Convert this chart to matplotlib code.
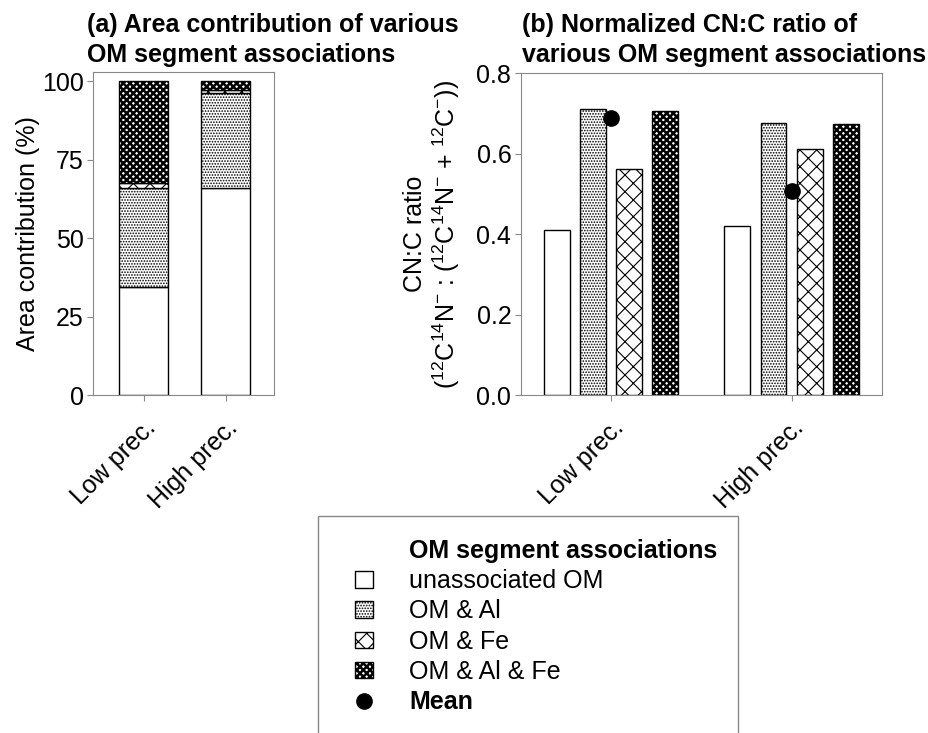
import numpy as np
import matplotlib.pyplot as plt
from matplotlib.patches import Patch, Rectangle
from matplotlib.lines import Line2D

plt.rcParams['font.family'] = ['Liberation Sans', 'DejaVu Sans']
plt.rcParams['font.size'] = 18
plt.rcParams['mathtext.fontset'] = 'custom'
plt.rcParams['mathtext.rm'] = 'Liberation Sans'
plt.rcParams['mathtext.it'] = 'Liberation Sans:italic'
plt.rcParams['mathtext.bf'] = 'Liberation Sans:bold'
plt.rcParams['hatch.linewidth'] = 0.8

sites = ['Low prec.', 'High prec.']
groups = ['unassociated OM', 'OM & Al', 'OM & Fe', 'OM & Al & Fe']
hatches = ['', '......', 'xx', 'xxxxx']
hatch_lw = [0.8, 0.8, 0.8, 1.8]

# area contribution (%) per site
area_unassoc = [34.5, 66.0]
area_al = [31.5, 30.4]
area_fe = [1.6, 0.8]
area_alfe = [32.4, 2.8]

# normalized CN:C ratio per site
ratio_unassoc = [0.410, 0.420]
ratio_al = [0.711, 0.677]
ratio_fe = [0.561, 0.611]
ratio_alfe = [0.707, 0.673]
ratio_mean = [0.688, 0.507]

frame_col = '#888888'

fig = plt.figure(figsize=(9.29, 7.33), dpi=100)
ax1 = fig.add_axes([0.1004, 0.4611, 0.1945, 0.4407])
ax2 = fig.add_axes([0.5608, 0.4611, 0.3883, 0.4389])

x = np.arange(len(sites))

# (a) stacked bars
bottom = np.zeros(len(sites))
for vals, h, hl in zip([area_unassoc, area_al, area_fe, area_alfe], hatches, hatch_lw):
    with plt.rc_context({'hatch.linewidth': hl}):
        ax1.bar(x, vals, 0.6, bottom=bottom, color='white', edgecolor='black',
                linewidth=1, hatch=h)
    bottom += np.array(vals)
ax1.set_xlim(-0.62, 1.59)
ax1.set_ylim(0, 103)
ax1.set_yticks([0, 25, 50, 75, 100])
ax1.set_ylabel('Area contribution (%)', labelpad=1)

# (b) grouped bars + mean
w = 0.144
offsets = [-0.3, -0.1, 0.1, 0.3]
for vals, h, hl, off in zip([ratio_unassoc, ratio_al, ratio_fe, ratio_alfe],
                            hatches, hatch_lw, offsets):
    with plt.rc_context({'hatch.linewidth': hl}):
        ax2.bar(x + off, vals, w, color='white', edgecolor='black',
                linewidth=1, hatch=h)
ax2.plot(x, ratio_mean, 'o', color='black', markersize=11, zorder=5)
ax2.set_xlim(-0.5, 1.5)
ax2.set_ylim(0, 0.8)
ax2.set_yticks([0, 0.2, 0.4, 0.6, 0.8])
ax2.set_yticklabels(['0.0', '0.2', '0.4', '0.6', '0.8'])
ax2.set_ylabel('CN:C ratio\n'
               r'($^{12}$C$^{14}$N$^{-}$ : ($^{12}$C$^{14}$N$^{-}$ + $^{12}$C$^{-}$))',
               labelpad=10, linespacing=1.15)

for ax in (ax1, ax2):
    for s in ax.spines.values():
        s.set_color(frame_col)
    ax.tick_params(direction='out', length=4, color=frame_col, labelsize=18, pad=3)
    ax.tick_params(axis='x', pad=11)
    ax.set_xticks(x)
    ax.set_xticklabels(sites, rotation=45, ha='right', rotation_mode='anchor')

fig.text(0.0936, 1 - 13 / 733, '(a) Area contribution of various\nOM segment associations',
         fontsize=18, fontweight='bold', va='top', ha='left', linespacing=1.3)
fig.text(0.562, 1 - 13 / 733, '(b) Normalized CN:C ratio of\nvarious OM segment associations',
         fontsize=18, fontweight='bold', va='top', ha='left', linespacing=1.3)

# legend
handles = [Patch(facecolor='none', edgecolor='none')]
labels = ['OM segment associations']
for g, h in zip(groups, hatches):
    handles.append(Patch(facecolor='white', edgecolor='black', hatch=h, linewidth=1))
    labels.append(g)
handles.append(Line2D([], [], marker='o', color='black', linestyle='none', markersize=11))
labels.append('Mean')
leg = fig.legend(handles, labels, loc='upper left',
                 bbox_to_anchor=(355 / 929, 1 - 539 / 733),
                 frameon=False, borderpad=0, borderaxespad=0,
                 handlelength=0.72, handleheight=0.64, handletextpad=1.44,
                 labelspacing=0.25, fontsize=18)
leg.get_texts()[0].set_fontweight('bold')
leg.get_texts()[-1].set_fontweight('bold')
for hd, hl in zip(leg.legend_handles[1:5], hatch_lw):
    hd.set_hatch_linewidth(hl)

fig.add_artist(Rectangle((318 / 929, -0.05), (738 - 318) / 929, 1 - 516 / 733 + 0.05,
                         transform=fig.transFigure, fill=False,
                         edgecolor=frame_col, linewidth=1))

fig.savefig('out.png', dpi=100)
